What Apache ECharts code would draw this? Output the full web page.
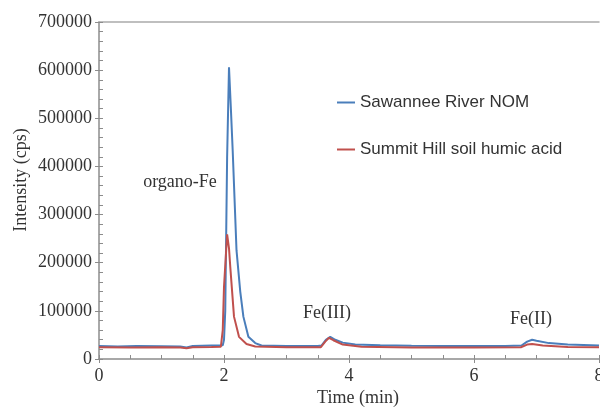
<!DOCTYPE html>
<html>
<head>
<meta charset="utf-8">
<script src="https://cdn.jsdelivr.net/npm/echarts@6/dist/echarts.min.js"></script>
<style>html,body{margin:0;padding:0;background:#fff}#c{width:600px;height:408px}</style>
</head>
<body>
<div id="c"></div>
<script>
// Time (min) / intensity (cps)
const blueTime = [0, 0.3, 0.6, 1.0, 1.3, 1.4, 1.5, 1.8, 1.98, 2.0, 2.02, 2.05, 2.08, 2.11, 2.14, 2.2, 2.26, 2.31, 2.39, 2.5, 2.6, 3.0, 3.5, 3.56, 3.63, 3.7, 3.78, 3.9, 4.1, 4.5, 5.0, 5.5, 6.0, 6.5, 6.76, 6.85, 6.93, 7.0, 7.2, 7.5, 8.0];
const blueValues = [27000, 26000, 27000, 26500, 26000, 24000, 27000, 28000, 28500, 40000, 100000, 420000, 606000, 520000, 430000, 226000, 140000, 88000, 46000, 33000, 28000, 27000, 27000, 28000, 40000, 46000, 40000, 34000, 30000, 28500, 27500, 27000, 27000, 27000, 28000, 36000, 40000, 38000, 33000, 30000, 28000];
const redTime = [0, 0.5, 1.0, 1.3, 1.4, 1.5, 1.8, 1.95, 1.98, 2.0, 2.05, 2.08, 2.10, 2.16, 2.24, 2.36, 2.5, 3.0, 3.55, 3.62, 3.68, 3.75, 3.9, 4.2, 5.0, 6.0, 6.75, 6.85, 6.93, 7.1, 7.5, 8.0];
const redValues = [24500, 24000, 24500, 24000, 22500, 24500, 25000, 25500, 60000, 150000, 259000, 230000, 192000, 88000, 46000, 31000, 26000, 24500, 24500, 36000, 44000, 39000, 30000, 25500, 24000, 24000, 24500, 30000, 31000, 28000, 25000, 24500];
const seriesNames = ['Sawannee River NOM', 'Summit Hill soil humic acid'];
const peakLabels = ['organo-Fe', 'Fe(III)', 'Fe(II)'];
const xTitle = 'Time (min)';
const yTitle = 'Intensity (cps)';

const serif = 'Liberation Serif';
const axisCol = '#8c8c8c';
const txtCol = '#333';

const chart = echarts.init(document.getElementById('c'), null, {renderer: 'canvas'});
const pair = (t, v) => t.map((x, i) => [x, v[i]]);
const xBase = {type: 'value', min: 0, max: 8, interval: 2, splitLine: {show: false}};
const yBase = {type: 'value', min: 0, max: 700000, interval: 100000, splitLine: {show: false}};
chart.setOption({
  animation: false,
  grid: {left: 99, right: 1, top: 22, bottom: 49, outerBoundsMode: 'none', containLabel: false},
  legend: {
    orient: 'vertical', left: 337, top: 94, padding: 0, itemWidth: 18, itemHeight: 2, itemGap: 30,
    icon: 'rect',
    textStyle: {fontFamily: 'Liberation Sans', fontSize: 17, color: txtCol},
    data: seriesNames
  },
  xAxis: [
    Object.assign({}, xBase, {position: 'bottom',
      axisLine: {lineStyle: {color: axisCol, width: 1.5}},
      axisTick: {inside: false, length: 4, lineStyle: {color: axisCol}},
      axisLabel: {fontFamily: serif, fontSize: 18, color: txtCol, margin: 8, formatter: v => String(v)}}),
    Object.assign({}, xBase, {position: 'bottom',
      axisLine: {show: false},
      axisTick: {inside: true, length: 4, lineStyle: {color: axisCol}},
      minorTick: {show: true, splitNumber: 4, length: 4, lineStyle: {color: axisCol}},
      axisLabel: {show: false}}),
    Object.assign({}, xBase, {position: 'top',
      axisLine: {lineStyle: {color: '#aaa', width: 1.5}},
      axisTick: {show: false}, axisLabel: {show: false}})
  ],
  yAxis: [
    Object.assign({}, yBase, {position: 'left',
      axisLine: {show: true, lineStyle: {color: axisCol, width: 1.5}},
      axisTick: {show: true, inside: false, length: 4, lineStyle: {color: axisCol}},
      axisLabel: {fontFamily: serif, fontSize: 18, color: txtCol, margin: 7, formatter: v => String(v)}}),
    Object.assign({}, yBase, {position: 'left',
      axisLine: {show: false},
      axisTick: {show: true, inside: true, length: 4, lineStyle: {color: axisCol}},
      minorTick: {show: true, splitNumber: 5, length: 4, lineStyle: {color: axisCol}},
      axisLabel: {show: false}})
  ],
  series: [
    {name: seriesNames[0], type: 'line', symbol: 'none', data: pair(blueTime, blueValues),
      lineStyle: {color: '#4a7ebb', width: 2}, itemStyle: {color: '#4a7ebb'}, z: 3},
    {name: seriesNames[1], type: 'line', symbol: 'none', data: pair(redTime, redValues),
      lineStyle: {color: '#c0504d', width: 2}, itemStyle: {color: '#c0504d'}, z: 4}
  ],
  graphic: [
    {type: 'text', x: 180, y: 182, style: {text: peakLabels[0], font: '18px "Liberation Serif"', fill: txtCol, align: 'center', verticalAlign: 'middle'}},
    {type: 'text', x: 327, y: 313, style: {text: peakLabels[1], font: '18px "Liberation Serif"', fill: txtCol, align: 'center', verticalAlign: 'middle'}},
    {type: 'text', x: 531, y: 319, style: {text: peakLabels[2], font: '18px "Liberation Serif"', fill: txtCol, align: 'center', verticalAlign: 'middle'}},
    {type: 'text', x: 358, y: 398, style: {text: xTitle, font: '18px "Liberation Serif"', fill: txtCol, align: 'center', verticalAlign: 'middle'}},
    {type: 'text', x: 21, y: 180, rotation: Math.PI / 2, style: {text: yTitle, font: '18px "Liberation Serif"', fill: txtCol, align: 'center', verticalAlign: 'middle'}}
  ]
});
</script>
</body>
</html>
